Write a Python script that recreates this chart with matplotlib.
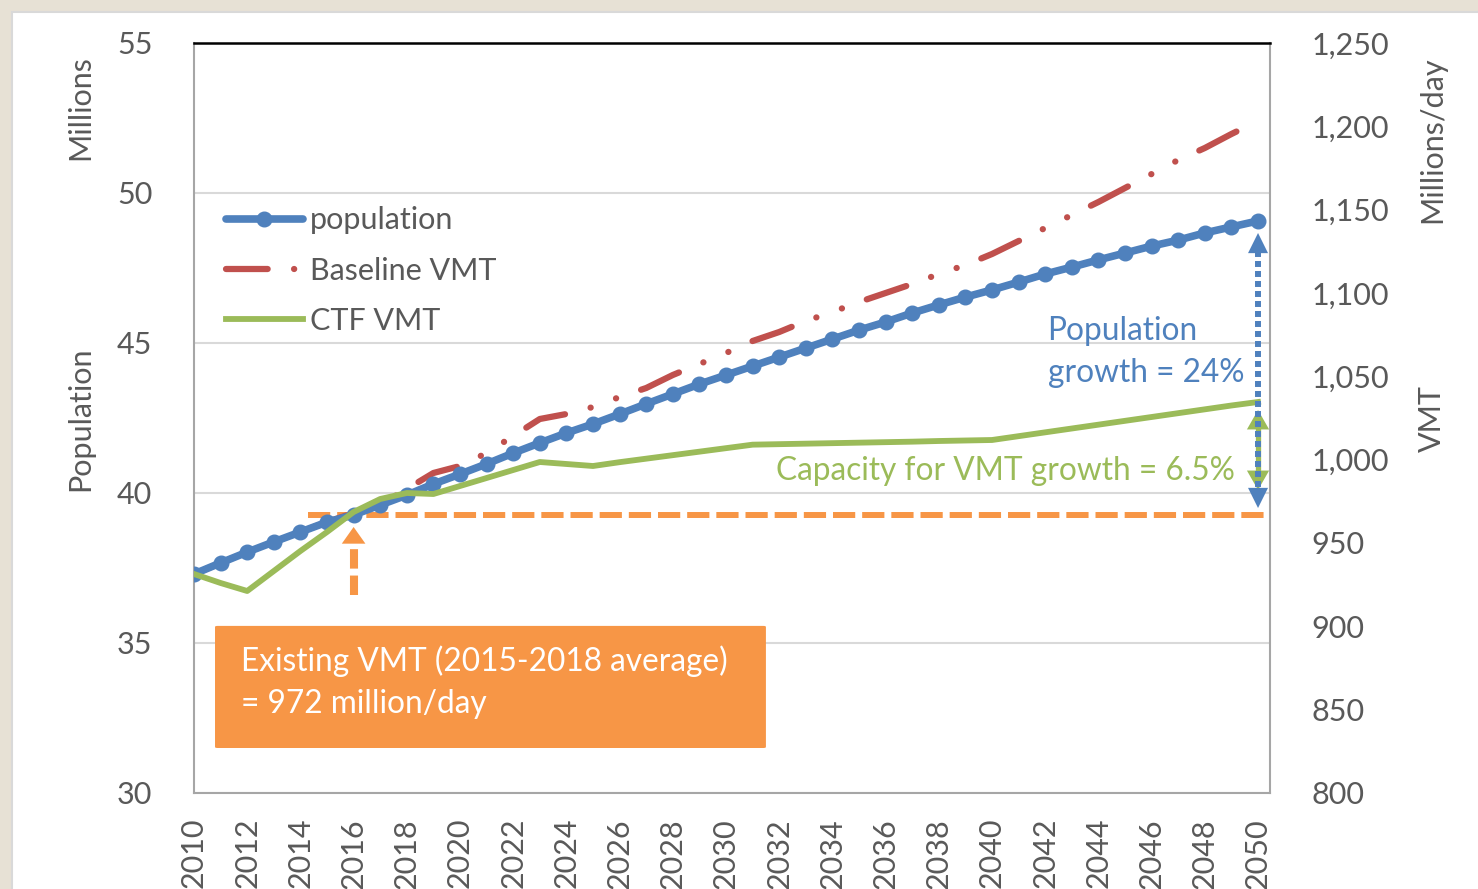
"""Population vs VMT projection, 2010-2050 (population on left axis, VMT on right)."""

import matplotlib

matplotlib.use("Agg")
import matplotlib.pyplot as plt  # noqa: E402
from matplotlib.lines import Line2D  # noqa: E402
from matplotlib.patches import FancyBboxPatch, Rectangle  # noqa: E402

plt.rcParams["font.family"] = ["Lato", "DejaVu Sans"]
plt.rcParams["lines.scale_dashes"] = False

# --------------------------------------------------------------------------- #
# Data
# --------------------------------------------------------------------------- #
years = list(range(2010, 2051))

# population, millions (left axis)
population = [
    37.30, 37.67, 38.03, 38.37, 38.70, 39.03, 39.27, 39.60, 39.93, 40.30,
    40.63, 40.97, 41.33, 41.67, 42.00, 42.30, 42.63, 42.97, 43.30, 43.63,
    43.93, 44.23, 44.53, 44.83, 45.13, 45.43, 45.70, 46.00, 46.27, 46.53,
    46.77, 47.03, 47.30, 47.53, 47.77, 48.00, 48.23, 48.43, 48.67, 48.87,
    49.07,
]

# baseline VMT, millions/day (right axis)
baseline_vmt = [
    931.4, 938.0, 944.6, 950.6, 956.6, 962.6, 968.0, 972.8, 982.4, 992.0,
    996.2, 1004.0, 1014.2, 1024.4, 1027.4, 1031.6, 1037.6, 1043.0, 1050.8, 1057.4,
    1064.0, 1071.2, 1076.6, 1083.2, 1088.6, 1094.6, 1100.0, 1105.4, 1111.4, 1116.8,
    1123.4, 1131.2, 1139.0, 1146.8, 1154.6, 1163.0, 1171.4, 1179.8, 1187.0, 1195.4,
    1203.2,
]

# CTF VMT, millions/day (right axis)
ctf_vmt = [
    931.4, 926.0, 921.2, 933.2, 945.2, 956.6, 968.6, 976.4, 980.0, 979.4,
    984.2, 989.0, 993.8, 998.6, 997.4, 996.2, 998.5, 1000.6, 1002.7, 1004.8,
    1006.9, 1009.0, 1009.3, 1009.6, 1009.9, 1010.2, 1010.5, 1010.8, 1011.2, 1011.5,
    1011.8, 1014.1, 1016.4, 1018.7, 1021.0, 1023.3, 1025.6, 1027.9, 1030.2, 1032.5,
    1034.6,
]

existing_vmt = 967        # level of the orange reference line
existing_year = 2016
growth_year = 2050

C_BLUE = "#4F81BD"
C_RED = "#C0504D"
C_GREEN = "#9BBB59"
C_ORANGE = "#F79646"
C_TEXT = "#595959"
FS = 22
FS_NOTE = 22.8

# --------------------------------------------------------------------------- #
# Figure
# --------------------------------------------------------------------------- #
fig = plt.figure(figsize=(14.78, 8.89), dpi=100, facecolor="#E7E1D5")
fig.patches.append(Rectangle((12 / 1478, -0.01), 1.0, 1 - 12 / 889 + 0.01,
                             transform=fig.transFigure, facecolor="white",
                             edgecolor="#D9D9D9", lw=1.5, zorder=-10))

ax = fig.add_axes([194 / 1478, 1 - 793 / 889, 1076 / 1478, 750 / 889])
ax2 = ax.twinx()
ax.set_xlim(2010, 2050.45)
ax.set_ylim(30, 55)
ax2.set_ylim(800, 1250)

ax.set_yticks(range(30, 56, 5))
ax2.set_yticks(range(800, 1251, 50))
ax2.set_yticklabels([f"{v:,}" for v in range(800, 1251, 50)])
ax.set_xticks(range(2010, 2051, 2))
ax.set_xticklabels([str(y) for y in range(2010, 2051, 2)], rotation=90)

ax.tick_params(axis="y", length=0, pad=30, labelsize=FS, labelcolor=C_TEXT)
ax.tick_params(axis="x", length=0, pad=18, labelsize=FS, labelcolor=C_TEXT)
ax2.tick_params(axis="y", length=0, pad=30, labelsize=FS, labelcolor=C_TEXT)

ax.grid(axis="y", color="#D9D9D9", lw=1.5)
ax.set_axisbelow(True)
for side in ("left", "right", "bottom"):
    ax.spines[side].set_color("#A6A6A6")
    ax.spines[side].set_linewidth(1.5)
ax.spines["top"].set_color("black")
ax.spines["top"].set_linewidth(1.8)
for sp in ax2.spines.values():
    sp.set_visible(False)

vmt = ax2.transData

# existing VMT reference (orange dashed) and its arrow
ax.plot([2014.3, 2050.35], [existing_vmt, existing_vmt], transform=vmt,
        color=C_ORANGE, lw=4.3, dashes=(16, 5), zorder=1.5)
ax.plot([existing_year, existing_year], [918.8, 950], transform=vmt,
        color=C_ORANGE, lw=5.8, dashes=(14, 5), zorder=1.5)
ax.annotate("", xy=(existing_year, 959.6), xytext=(existing_year, 948.5),
            xycoords=vmt, textcoords=vmt,
            arrowprops=dict(arrowstyle="-|>,head_length=1.2,head_width=0.85",
                            color=C_ORANGE, lw=0, shrinkA=0, shrinkB=0,
                            mutation_scale=10), zorder=1.5)

# series
ax.plot(years, baseline_vmt, transform=vmt, color=C_RED, lw=4.5,
        dashes=(30, 19, 0.1, 19.4, 0.1, 19), dash_capstyle="round", zorder=2)
ax.plot(years, population, color=C_BLUE, lw=5.5, marker="o", ms=10.5,
        solid_capstyle="round", zorder=3)
ax.plot(years, ctf_vmt, transform=vmt, color=C_GREEN, lw=4.2, zorder=4)

# growth arrows at 2050
ax.plot([growth_year, growth_year], [1019, 992.6], transform=vmt,
        color=C_GREEN, lw=3.8, zorder=5)
for tip, base in ((1029.8, 1018), (981.8, 993.6)):
    ax.annotate("", xy=(growth_year, tip), xytext=(growth_year, base),
                xycoords=vmt, textcoords=vmt,
                arrowprops=dict(arrowstyle="-|>,head_length=1.4,head_width=0.8",
                                color=C_GREEN, lw=0, shrinkA=0, shrinkB=0,
                                mutation_scale=10), zorder=5)
ax.plot([growth_year, growth_year], [1125, 981], transform=vmt,
        color=C_BLUE, lw=4.3, dashes=(4.3, 2.9), zorder=6)
for tip, base in ((1136, 1124), (971, 981.8)):
    ax.annotate("", xy=(growth_year, tip), xytext=(growth_year, base),
                xycoords=vmt, textcoords=vmt,
                arrowprops=dict(arrowstyle="-|>,head_length=1.45,head_width=0.72",
                                color=C_BLUE, lw=0, shrinkA=0, shrinkB=0,
                                mutation_scale=10), zorder=6)

# annotations
ax.text(2042.09, 1077.2, "Population", transform=vmt, color=C_BLUE,
        fontsize=FS_NOTE, va="center", ha="left", zorder=7)
ax.text(2042.09, 1052.0, "growth = 24%", transform=vmt, color=C_BLUE,
        fontsize=FS_NOTE, va="center", ha="left", zorder=7)
ax.text(2031.88, 993.2, "Capacity for VMT growth = 6.5%", transform=vmt,
        color=C_GREEN, fontsize=FS_NOTE, va="center", ha="left", zorder=7)

box = FancyBboxPatch((2010.79, 31.5), 20.71, 4.07,
                     boxstyle="round,pad=0,rounding_size=0.1",
                     facecolor=C_ORANGE, edgecolor="none", zorder=8,
                     mutation_aspect=0.3)
ax.add_patch(box)
ax.text(2011.77, 34.4, "Existing VMT (2015-2018 average)", color="white",
        fontsize=FS_NOTE, va="center", ha="left", zorder=9)
ax.text(2011.77, 32.97, "= 972 million/day", color="white",
        fontsize=FS_NOTE, va="center", ha="left", zorder=9)

# legend
handles = [
    Line2D([], [], color=C_BLUE, lw=5.5, marker="o", ms=10.5, markevery=[1],
           solid_capstyle="round"),
    Line2D([], [], color=C_RED, lw=4.5, dashes=(30, 19, 0.1, 19), dash_capstyle="round"),
    Line2D([], [], color=C_GREEN, lw=4.2),
]
ax.legend(handles, ["population", "Baseline VMT", "CTF VMT"], loc="upper left",
          bbox_to_anchor=(0.03, 0.782), frameon=False, fontsize=FS,
          labelcolor=C_TEXT, handlelength=2.5, handletextpad=0.25,
          labelspacing=0.72, borderpad=0, borderaxespad=0)

# axis titles
fig.text(80 / 1478, 1 - 108 / 889, "Millions", rotation=90, ha="center",
         va="center", fontsize=FS, color=C_TEXT)
fig.text(80 / 1478, 1 - 419 / 889, "Population", rotation=90, ha="center",
         va="center", fontsize=FS, color=C_TEXT)
fig.text(1432 / 1478, 1 - 140 / 889, "Millions/day", rotation=90, ha="center",
         va="center", fontsize=FS, color=C_TEXT)
fig.text(1432 / 1478, 1 - 418 / 889, "VMT", rotation=90, ha="center",
         va="center", fontsize=FS, color=C_TEXT)

fig.savefig("out.png", dpi=100, facecolor=fig.get_facecolor())
